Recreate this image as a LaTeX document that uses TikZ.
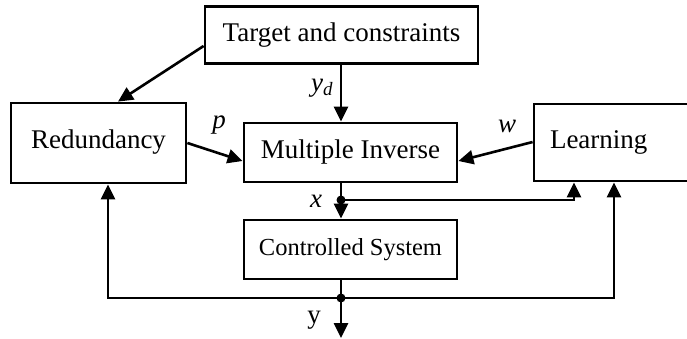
\documentclass[tikz,border=0pt]{standalone}
\usepackage{fontspec}
\setmainfont{Liberation Serif}
\usetikzlibrary{arrows.meta}
\begin{document}
\begin{tikzpicture}[x=1pt,y=-1pt,
  blk/.style={draw,line width=2.8pt,inner sep=0pt,font=\fontsize{27}{31}\selectfont},
  conn/.style={line width=2.6pt,-{Triangle[length=15pt,width=14pt]}},
  wire/.style={line width=2.6pt},
  lbl/.style={font=\fontsize{27}{31}\selectfont\itshape,inner sep=0pt},
  dot/.style={circle,fill,inner sep=0pt,minimum size=9pt}]
\useasboundingbox (0,0) rectangle (687,338);
\clip (0,0) rectangle (687,338);
\node[blk,minimum width=273pt,minimum height=57pt] (tgt) at (341.5,35) {Target and constraints};
\node[blk,minimum width=175pt,minimum height=80pt] (red) at (98.5,143) {\raisebox{7pt}{Redundancy}};
\node[blk,minimum width=213pt,minimum height=59pt] (mi) at (350.5,152.5) {Multiple Inverse};
\node[blk,minimum width=213pt,minimum height=59pt,font=\fontsize{24.5}{28}\selectfont] (cs) at (350.5,249.5) {Controlled System};
\node[blk,minimum width=170pt,minimum height=77pt,text width=150pt,align=left] (lrn) at (619,142.5) {\hspace*{6pt}\raisebox{6pt}{Learning}};
% connectors
\draw[conn] (tgt.south -| 341,0) -- (mi.north -| 341,0);
\draw[conn] (tgt.west |- 0,46) -- (red.north -| 118,0);
\draw[conn] (red.east |- 0,143) -- (mi.west |- 0,161);
\draw[conn] (lrn.west |- 0,142) -- (mi.east |- 0,161);
\coordinate (xb) at (341,200);
\coordinate (yb) at (341,298);
\coordinate (yend) at (341,338);
\draw[conn] (mi.south -| xb) -- (cs.north -| xb);
\draw[conn] (xb) -- (574,200) -- (lrn.south -| 574,0);
\draw[wire] (cs.south -| yb) -- (yb);
\draw[conn] (yb) -- (yend);
\draw[conn] (yb) -- (108,298) -- (red.south -| 108,0);
\draw[conn] (yb) -- (614,298) -- (lrn.south -| 614,0);
\node[dot] at (xb) {};
\node[dot] at (yb) {};
% labels
\node[lbl] (lyd) at (322,88) {y\textsubscript{d}};
\node[lbl] (lp) at (219,125) {p};
\node[lbl] (lw) at (507,126) {w};
\node[lbl] (lx) at (316,201) {x};
\node[lbl,font=\fontsize{27}{31}\selectfont] (ly) at (314,320) {y};
\end{tikzpicture}
\end{document}
